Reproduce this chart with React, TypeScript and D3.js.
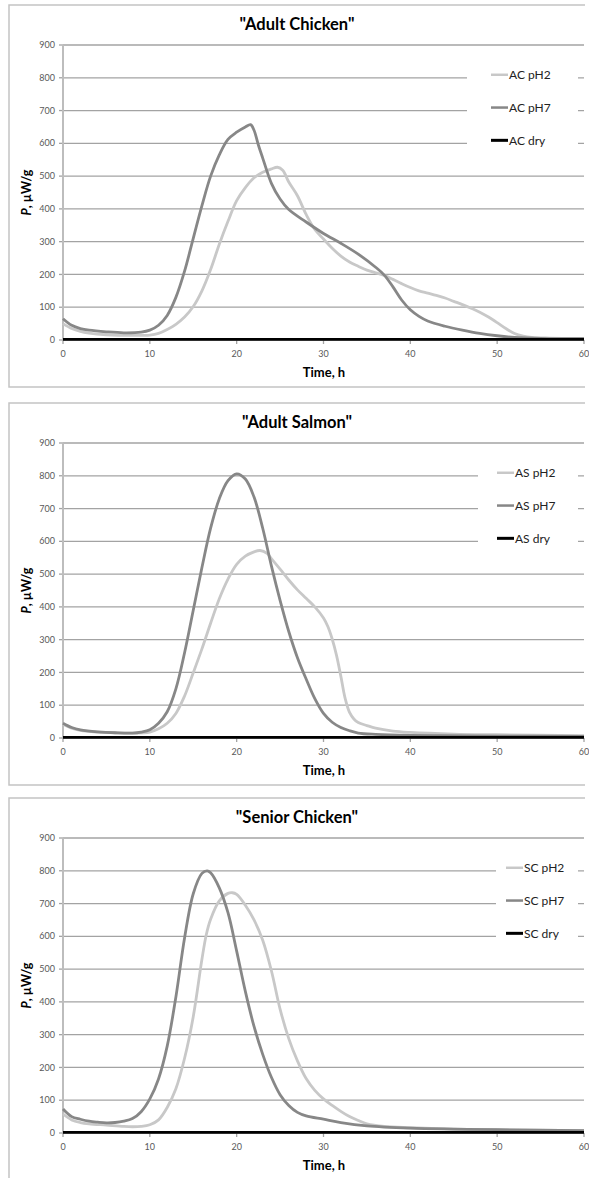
import React from "react";
import * as d3 from "d3";

// Данные: [время, ч ; мощность, мкВт/г]
const titles = ['"Adult Chicken"', '"Adult Salmon"', '"Senior Chicken"'];
const legendNames = [
  ["AC pH2", "AC pH7", "AC dry"],
  ["AS pH2", "AS pH7", "AS dry"],
  ["SC pH2", "SC pH7", "SC dry"],
];
const yTicks = [0, 100, 200, 300, 400, 500, 600, 700, 800, 900];
const xTicks = [0, 10, 20, 30, 40, 50, 60];

const acPH2: [number, number][] = [
  [0, 50], [1, 35], [2, 26], [3, 21], [5, 16], [8, 14], [10, 15], [11, 20], [12, 32],
  [13, 48], [14, 70], [15, 102], [16, 150], [17, 215], [18, 292], [19, 362], [20, 425],
  [21, 465], [22, 495], [23, 512], [24, 522], [24.7, 527], [25.3, 518], [26, 482],
  [27, 440], [28, 383], [29, 337], [30, 308],
  [31, 280], [32, 256], [33, 238], [34, 225], [35, 213], [36, 205], [37, 197],
  [38, 185], [39, 172], [40, 160], [41, 150], [42, 143], [43, 136], [44, 128],
  [45, 118], [46, 108], [47, 97], [48, 85], [49, 70], [50, 53], [51, 35], [52, 20],
  [53, 12], [54, 8], [56, 6], [60, 5],
];
const acPH7: [number, number][] = [
  [0, 65], [1, 45], [2, 35], [3, 30], [5, 25], [7, 22], [9, 24], [10, 30], [11, 45],
  [12, 75], [13, 130], [14, 210], [15, 310], [16, 410], [17, 500], [18, 565],
  [19, 612], [20, 634], [21, 650], [21.6, 657], [22, 640], [22.5, 595], [23, 555],
  [24, 478], [25, 430], [26, 398], [28, 360], [30, 325], [32, 295], [34, 262],
  [36, 222], [37, 198], [38, 162], [39, 122], [40, 92], [41, 72], [42, 58], [44, 42],
  [46, 30], [48, 20], [50, 13], [52, 8], [55, 5], [60, 4],
];
const acDry: [number, number][] = [[0, 2], [10, 2], [20, 2], [30, 2], [40, 2], [50, 2], [60, 2]];

const asPH2: [number, number][] = [
  [0, 42], [1, 30], [2, 23], [4, 18], [6, 16], [8, 15], [10, 18], [11, 28], [12, 45],
  [13, 75], [14, 128], [15, 199], [16, 272], [17, 350], [18, 425], [19, 485],
  [20, 530], [21, 555], [22, 568], [22.7, 572], [23.5, 563], [24, 547], [25, 515],
  [26, 482], [27, 452], [28, 426], [29, 400], [30, 366], [30.5, 340], [31, 302],
  [31.5, 252], [32, 188], [32.5, 120], [33, 78], [33.5, 58], [34, 47], [35, 38],
  [36, 30], [38, 21], [40, 17], [45, 12], [50, 10], [60, 7],
];
const asPH7: [number, number][] = [
  [0, 45], [1, 32], [2, 25], [4, 19], [6, 16], [8, 15], [9, 18], [10, 25], [11, 45],
  [12, 80], [13, 150], [14, 260], [15, 390], [16, 520], [17, 640], [18, 730],
  [19, 785], [20, 806], [21, 790], [22, 735], [23, 640], [24, 525], [25, 420],
  [26, 325], [27, 245], [28, 180], [29, 120], [30, 75], [31, 48], [32, 32], [33, 22],
  [34, 15], [36, 11], [40, 8], [50, 6], [60, 5],
];
const asDry: [number, number][] = [[0, 2], [10, 2], [20, 2], [30, 2], [40, 2], [50, 2], [60, 2]];

const scPH2: [number, number][] = [
  [0, 58], [1, 40], [2, 32], [3, 28], [5, 24], [7, 20], [8, 19], [9, 20], [10, 25],
  [11, 40], [12, 78], [13, 135], [14, 228], [15, 355], [16, 530], [16.5, 605],
  [17, 652], [18, 708], [19, 731], [19.5, 733], [20, 728], [21, 695], [22, 650],
  [23, 588], [24, 495], [25, 378], [26, 288], [27, 220], [28, 166], [29, 130],
  [30, 104], [31, 84], [32, 66], [33, 50], [34, 38], [35, 28], [37, 20],
  [40, 16], [45, 12], [50, 10], [60, 7],
];
const scPH7: [number, number][] = [
  [0, 73], [1, 50], [2, 42], [3, 36], [4, 33], [5, 31], [6, 32], [7, 36], [8, 44],
  [9, 65], [10, 104], [11, 165], [12, 265], [13, 415], [14, 595], [15, 730],
  [16, 792], [16.6, 800], [17, 794], [18, 748], [19, 672], [20, 555], [21, 432],
  [22, 325], [23, 240], [24, 170], [25, 117], [26, 84], [27, 63], [28, 52], [30, 42],
  [32, 32], [35, 22], [40, 15], [45, 12], [50, 10], [60, 7],
];
const scDry: [number, number][] = [[0, 2], [10, 2], [20, 2], [30, 2], [40, 2], [50, 2], [60, 2]];

const panelSeries = [
  [acPH2, acPH7, acDry],
  [asPH2, asPH7, asDry],
  [scPH2, scPH7, scDry],
];

const colors = ["#c8c8c8", "#878787", "#000000"];
const font = "Lato, 'Open Sans', sans-serif";

const panelTops = [5, 403, 798];
const legendGap = [467, 478, 496];
const legendSample = [491, 497, 506];

const Panel = ({ idx }: { idx: number }) => {
  const top = panelTops[idx];
  const x = d3.scaleLinear().domain([0, 60]).range([63, 584]);
  const y = d3.scaleLinear().domain([0, 900]).range([top + 335, top + 40]);
  const line = d3
    .line<[number, number]>()
    .x((d) => x(d[0]))
    .y((d) => y(d[1]))
    .curve(d3.curveCatmullRom.alpha(0.5));
  const bottom = Math.min(top + 382, 1180);

  return (
    <g>
      {/* рамка диаграммы */}
      <path
        d={`M585,${top}H9V${bottom}H585`}
        fill="none"
        stroke="#c4c4c4"
        strokeWidth={1.5}
      />
      <text
        x={297}
        y={top + 25}
        textAnchor="middle"
        fontFamily={font}
        fontWeight="bold"
        fontSize={16.5}
        fill="#000"
      >
        {titles[idx]}
      </text>

      {yTicks.map((t) => (
        <g key={t}>
          {t > 0 && (
            <line x1={63} x2={584} y1={y(t)} y2={y(t)} stroke="#a3a3a3" strokeWidth={1.3} />
          )}
          <line x1={59} x2={63} y1={y(t)} y2={y(t)} stroke="#a3a3a3" strokeWidth={1.3} />
          <text
            x={55}
            y={y(t)}
            dy="0.35em"
            textAnchor="end"
            fontFamily={font}
            fontSize={9}
            fill="#595959"
          >
            {t}
          </text>
        </g>
      ))}
      {xTicks.map((t) => (
        <g key={t}>
          <line x1={x(t)} x2={x(t)} y1={y(0)} y2={y(0) + 4} stroke="#a3a3a3" strokeWidth={1.3} />
          <text
            x={x(t)}
            y={y(0) + 17}
            textAnchor="middle"
            fontFamily={font}
            fontSize={9}
            fill="#595959"
          >
            {t}
          </text>
        </g>
      ))}
      <line x1={63} x2={63} y1={y(900)} y2={y(0)} stroke="#bdbdbd" strokeWidth={2} />
      <line x1={63} x2={584} y1={y(0)} y2={y(0)} stroke="#a3a3a3" strokeWidth={1.3} />

      {/* легенда поверх сетки */}
      <rect x={legendGap[idx]} y={y(870)} width={578 - legendGap[idx]} height={y(530) - y(870)} fill="#fff" />
      {legendNames[idx].map((name, i) => {
        const ly = y(800 - i * 100) - 3;
        return (
          <g key={name}>
            <line
              x1={legendSample[idx]}
              x2={legendSample[idx] + 17}
              y1={ly}
              y2={ly}
              stroke={colors[i]}
              strokeWidth={i === 2 ? 3 : 2.5}
            />
            <text
              x={legendSample[idx] + 18}
              y={ly}
              dy="0.35em"
              fontFamily={font}
              fontSize={12}
              fill="#222"
            >
              {name}
            </text>
          </g>
        );
      })}

      {panelSeries[idx].map((s, i) => (
        <path
          key={i}
          d={line(s) || ""}
          fill="none"
          stroke={colors[i]}
          strokeWidth={2.8}
          strokeLinejoin="round"
        />
      ))}

      <text
        x={324}
        y={top + 372}
        textAnchor="middle"
        fontFamily={font}
        fontWeight="bold"
        fontSize={13}
        fill="#000"
      >
        Time, h
      </text>
      <text
        transform={`translate(31,${(y(0) + y(900)) / 2}) rotate(-90)`}
        textAnchor="middle"
        fontFamily={font}
        fontWeight="bold"
        fontSize={12.5}
        fill="#000"
      >
        <tspan fontStyle="italic">P</tspan>, µW/g
      </text>
    </g>
  );
};

export default function App() {
  return (
    <svg
      width={589}
      height={1178}
      style={{ position: "absolute", left: 0, top: 0, background: "#fff" }}
    >
      <rect width={589} height={1178} fill="#fff" />
      {[0, 1, 2].map((i) => (
        <Panel key={i} idx={i} />
      ))}
    </svg>
  );
}
